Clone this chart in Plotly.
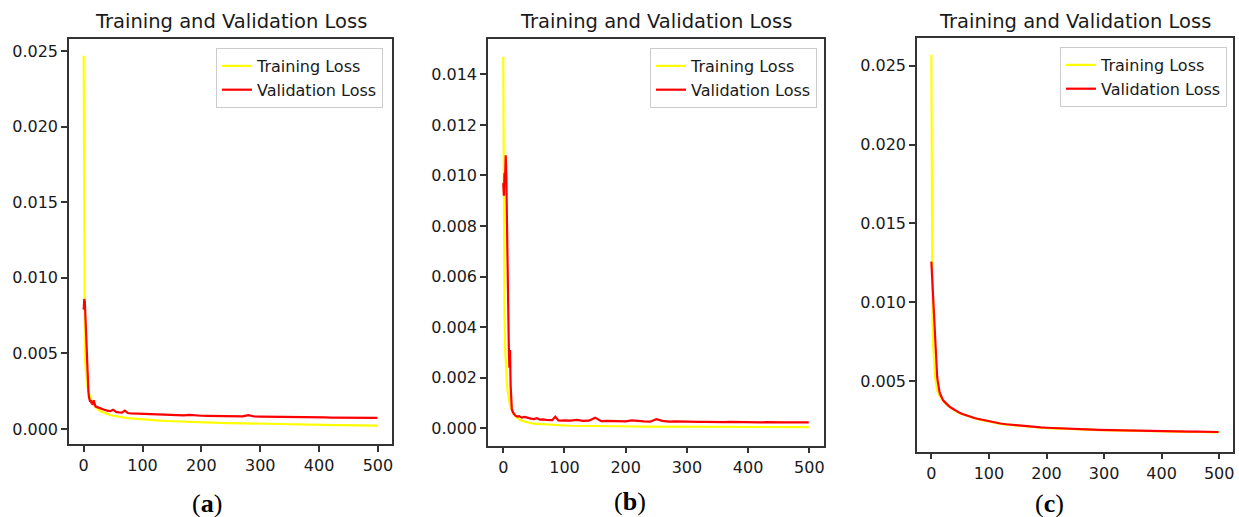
import plotly.graph_objects as go

epochs = [0, 1, 2, 3, 4, 5, 6, 7, 8, 9, 10, 11, 12, 13, 14, 15, 17, 20, 23, 26,
          30, 35, 40, 45, 50, 55, 60, 65, 70, 75, 80, 85, 90, 95, 100,
          110, 120, 130, 140, 150, 160, 170, 180, 190, 200, 210, 220, 230, 240,
          250, 260, 270, 280, 290, 300, 310, 320, 330, 340, 350, 360, 370, 380,
          390, 400, 410, 420, 430, 440, 450, 460, 470, 480, 490, 499]

train_a = [0.0247, 0.0090, 0.0055, 0.0042, 0.0036, 0.0032, 0.0029, 0.0027, 0.0025, 0.0023,
           0.0022, 0.0021, 0.0020, 0.0019, 0.00182, 0.00175, 0.00160, 0.00145, 0.00133, 0.00124,
           0.00115, 0.00106, 0.00099, 0.00093, 0.00088, 0.00084, 0.00080, 0.00077, 0.00075, 0.00072,
           0.00070, 0.00068, 0.00066, 0.00064, 0.00062,
           0.00059, 0.00057, 0.00055, 0.00053, 0.00051, 0.00050, 0.00048, 0.00047, 0.00046, 0.00044,
           0.00043, 0.00042, 0.00041, 0.00040, 0.00039, 0.00038, 0.00037, 0.00036, 0.00035, 0.00035,
           0.00034, 0.00033, 0.00032, 0.00032, 0.00031, 0.00030, 0.00030, 0.00029, 0.00029, 0.00028,
           0.00027, 0.00027, 0.00026, 0.00026, 0.00025, 0.00025, 0.00024, 0.00024, 0.00023, 0.00023]

val_a = [0.0079, 0.0086, 0.0084, 0.0072, 0.0062, 0.0050, 0.0038, 0.0030, 0.0025, 0.0021,
         0.0019, 0.0018, 0.0019, 0.0017, 0.0018, 0.0016, 0.0019, 0.0015, 0.00145, 0.0014,
         0.00132, 0.00128, 0.00122, 0.00118, 0.00128, 0.00113, 0.00110, 0.00108, 0.00122, 0.00106,
         0.00104, 0.00103, 0.00105, 0.00101, 0.00100,
         0.00098, 0.00096, 0.00094, 0.00093, 0.00092, 0.00091, 0.00090, 0.00094, 0.00089, 0.00088,
         0.00087, 0.00087, 0.00086, 0.00085, 0.00085, 0.00084, 0.00084, 0.00092, 0.00083, 0.00082,
         0.00082, 0.00081, 0.00081, 0.00080, 0.00080, 0.00079, 0.00079, 0.00078, 0.00078, 0.00077,
         0.00077, 0.00076, 0.00076, 0.00075, 0.00075, 0.00075, 0.00074, 0.00074, 0.00073, 0.00074]

train_b = [0.0147, 0.0070, 0.0045, 0.0032, 0.0025, 0.0021, 0.0018, 0.0015, 0.0013, 0.00115,
           0.00102, 0.00092, 0.00083, 0.00076, 0.00070, 0.00064, 0.00056, 0.00047, 0.00040, 0.00035,
           0.00030, 0.00026, 0.00023, 0.00020, 0.00018, 0.00017, 0.00016, 0.00015, 0.00014, 0.00013,
           0.00013, 0.00012, 0.00012, 0.00011, 0.00011,
           0.00010, 0.000095, 0.000090, 0.000088, 0.000085, 0.000082, 0.000080, 0.000078, 0.000076, 0.000074,
           0.000072, 0.000070, 0.000068, 0.000066, 0.000064, 0.000062, 0.000060, 0.000059, 0.000058, 0.000057,
           0.000056, 0.000055, 0.000054, 0.000053, 0.000052, 0.000051, 0.000050, 0.000049, 0.000048, 0.000048,
           0.000047, 0.000046, 0.000046, 0.000045, 0.000045, 0.000044, 0.000044, 0.000043, 0.000043, 0.000042]

val_b = [0.0097, 0.0092, 0.0101, 0.0099, 0.0108, 0.0100, 0.0082, 0.0060, 0.0042, 0.0033,
         0.0024, 0.0031, 0.0017, 0.0009, 0.00075, 0.00068, 0.00058, 0.00050, 0.00046, 0.00048,
         0.00042, 0.00045, 0.00040, 0.00038, 0.00036, 0.00040, 0.00034, 0.00035, 0.00033, 0.00034,
         0.00032, 0.00046, 0.00031, 0.00030, 0.00031,
         0.00030, 0.00033, 0.00029, 0.00030, 0.00042, 0.00028, 0.00029, 0.00028, 0.00030, 0.00027,
         0.00031, 0.00028, 0.00027, 0.00026, 0.00036, 0.00029, 0.00026, 0.00027, 0.00026, 0.00025,
         0.00026, 0.00025, 0.00025, 0.00024, 0.00025, 0.00024, 0.00025, 0.00024, 0.00024, 0.00025,
         0.00024, 0.00023, 0.00024, 0.00023, 0.00024, 0.00023, 0.00023, 0.00024, 0.00023, 0.00023]

train_c = [0.0257, 0.0108, 0.0086, 0.0073, 0.0064, 0.0058, 0.0054, 0.0051, 0.0048, 0.0046,
           0.00445, 0.0043, 0.0042, 0.00412, 0.00405, 0.0040, 0.00390, 0.00376, 0.00364, 0.00353,
           0.00340, 0.00326, 0.00314, 0.00303, 0.00294, 0.00287, 0.00280, 0.00274, 0.00268, 0.00263,
           0.00258, 0.00254, 0.00250, 0.00246, 0.00242,
           0.00234, 0.00228, 0.00223, 0.00219, 0.00215, 0.00212, 0.00209, 0.00206, 0.00203, 0.00201,
           0.00199, 0.00197, 0.00195, 0.00194, 0.00192, 0.00191, 0.00190, 0.00189, 0.00188, 0.00187,
           0.00186, 0.00185, 0.00184, 0.00183, 0.00183, 0.00182, 0.00181, 0.00180, 0.00180, 0.00179,
           0.00178, 0.00178, 0.00177, 0.00177, 0.00176, 0.00176, 0.00175, 0.00175, 0.00174, 0.00174]

val_c = [0.01257, 0.0118, 0.0110, 0.0101, 0.0092, 0.0083, 0.0075, 0.0068, 0.0062, 0.0057,
         0.0053, 0.0050, 0.0047, 0.0045, 0.00435, 0.0042, 0.0040, 0.0038, 0.00367, 0.00355,
         0.00342, 0.00328, 0.00316, 0.00305, 0.00296, 0.00289, 0.00282, 0.00276, 0.00270, 0.00265,
         0.00260, 0.00256, 0.00252, 0.00248, 0.00244,
         0.00236, 0.00230, 0.00225, 0.00221, 0.00217, 0.00214, 0.00211, 0.00208, 0.00205, 0.00203,
         0.00201, 0.00199, 0.00197, 0.00196, 0.00194, 0.00193, 0.00192, 0.00191, 0.00190, 0.00189,
         0.00188, 0.00187, 0.00186, 0.00185, 0.00185, 0.00184, 0.00183, 0.00182, 0.00182, 0.00181,
         0.00180, 0.00180, 0.00179, 0.00179, 0.00178, 0.00178, 0.00177, 0.00177, 0.00176, 0.00176]

panel_titles = ["Training and Validation Loss"] * 3
panel_labels = ["a", "b", "c"]
series_names = ["Training Loss", "Validation Loss"]
x_ticks = [0, 100, 200, 300, 400, 500]
y_ticks_a = [0.000, 0.005, 0.010, 0.015, 0.020, 0.025]
y_ticks_b = [0.000, 0.002, 0.004, 0.006, 0.008, 0.010, 0.012, 0.014]
y_ticks_c = [0.005, 0.010, 0.015, 0.020, 0.025]

W, H = 1239, 517
FONT = "DejaVu Sans"
AX = "#333333"
TXT = "#1a1a1a"

panels = [
    dict(train=train_a, val=val_a, yt=y_ticks_a, yr=[-0.00099, 0.0258],
         px=(69, 392), py=(39, 444), leg=(383, 48), lab=(207, 503)),
    dict(train=train_b, val=val_b, yt=y_ticks_b, yr=[-0.00069, 0.0154],
         px=(488, 824), py=(39, 445.7), leg=(817, 48), lab=(630, 501)),
    dict(train=train_c, val=val_c, yt=y_ticks_c, yr=[0.00051, 0.02676],
         px=(917, 1233), py=(38, 451.7), leg=(1227, 47), lab=(1049, 503)),
]

fig = go.Figure()
layout = dict(width=W, height=H, margin=dict(l=0, r=0, t=0, b=0),
              paper_bgcolor="white", plot_bgcolor="white",
              font=dict(family=FONT, color=TXT, size=16), annotations=[])

for i, p in enumerate(panels):
    n = "" if i == 0 else str(i + 1)
    xa, ya = "x" + n, "y" + n
    lg = "legend" + n
    fig.add_trace(go.Scatter(x=epochs, y=p["train"], mode="lines", name=series_names[0],
                             line=dict(color="#ffff00", width=2.2), xaxis=xa, yaxis=ya, legend=lg))
    fig.add_trace(go.Scatter(x=epochs, y=p["val"], mode="lines", name=series_names[1],
                             line=dict(color="#ff0000", width=2.2), xaxis=xa, yaxis=ya, legend=lg))
    axcommon = dict(showline=True, linecolor=AX, linewidth=1.5, mirror=True, showgrid=False,
                    zeroline=False, ticks="outside", ticklen=6, tickwidth=1.5, tickcolor=AX,
                    tickfont=dict(family=FONT, size=16, color=TXT))
    layout["xaxis" + n] = dict(axcommon, domain=[p["px"][0] / W, p["px"][1] / W],
                               range=[-24.95, 523.95], tickvals=x_ticks,
                               ticktext=[str(v) for v in x_ticks], anchor=ya)
    layout["yaxis" + n] = dict(axcommon, domain=[1 - p["py"][1] / H, 1 - p["py"][0] / H],
                               range=p["yr"], tickvals=p["yt"],
                               ticktext=["%.3f" % v for v in p["yt"]], anchor=xa)
    layout[lg] = dict(x=p["leg"][0] / W, y=1 - p["leg"][1] / H, xanchor="right", yanchor="top",
                      bgcolor="white", bordercolor="#cccccc", borderwidth=1,
                      font=dict(family=FONT, size=16, color=TXT), tracegroupgap=0)
    layout["annotations"].append(dict(
        text=panel_titles[i], xref="paper", yref="paper",
        x=(p["px"][0] + p["px"][1]) / 2 / W, y=1 - 21 / H, xanchor="center", yanchor="middle",
        showarrow=False, font=dict(family=FONT, size=19.5, color=TXT)))
    layout["annotations"].append(dict(
        text="(<b>%s</b>)" % panel_labels[i], xref="paper", yref="paper",
        x=p["lab"][0] / W, y=1 - p["lab"][1] / H, xanchor="center", yanchor="middle",
        showarrow=False, font=dict(family="Liberation Serif", size=26, color="black")))

fig.update_layout(**layout)
fig.write_html("out.html")
